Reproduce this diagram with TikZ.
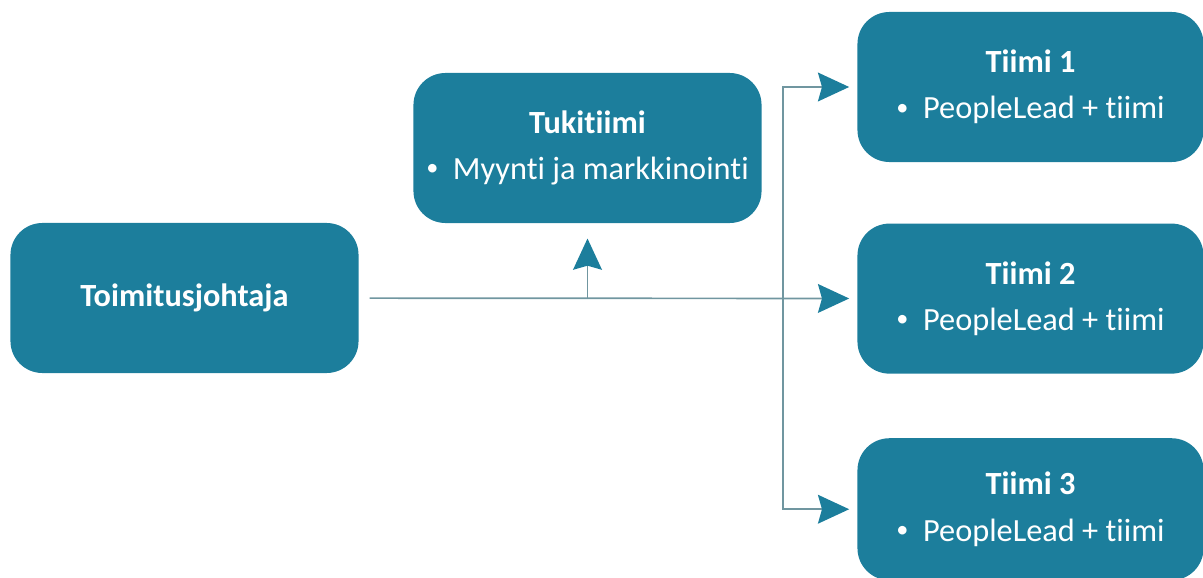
\documentclass[tikz,border=0pt]{standalone}
\usepackage{fontspec}
\setmainfont[Ligatures=NoCommon]{Carlito}
\usetikzlibrary{arrows.meta, positioning}
\definecolor{teambox}{RGB}{28,126,156}
\definecolor{linkgray}{RGB}{112,150,160}
\newcommand{\bulletitem}{\raisebox{0.12em}{\scalebox{0.75}{\textbullet}}\hspace{0.45em}}

\begin{document}
\begin{tikzpicture}[x=0.025cm, y=-0.025cm,
          orgbox/.style={rectangle, fill=teambox, text=white, minimum width=8.7cm, minimum height=3.75cm, align=center, rounded corners=0.8cm, font=\fontsize{23}{33}\selectfont},
          arrow/.style={-{Stealth[length=0.78cm, width=0.72cm, inset=0.1cm, color=teambox, fill=teambox]}, line width=1.2pt, color=linkgray}]

        \useasboundingbox (0,0) rectangle (1203,578);

        \node [orgbox] (ceo) at (184.5,298) {\textbf{Toimitusjohtaja}};
        \node [orgbox] (tuki) at (587.5,148) {\textbf{Tukitiimi}\\\bulletitem Myynti ja markkinointi};
        \node [orgbox, minimum width=8.65cm] (t1) at (1030.5,87) {\textbf{Tiimi 1}\\\bulletitem PeopleLead + tiimi};
        \node [orgbox, minimum width=8.65cm, below=1.525cm of t1] (t2) {\textbf{Tiimi 2}\\\bulletitem PeopleLead + tiimi};
        \node [orgbox, minimum width=8.65cm, minimum height=3.55cm, below=1.6cm of t2] (t3) {\textbf{Tiimi 3}\\\bulletitem PeopleLead + tiimi};

        \coordinate (split) at (tuki.south |- ceo.east);
        \coordinate (fork) at (783,298);

        \draw [arrow, shorten <=0.27cm, shorten >=0.2cm] (ceo) -- (t2);
        \draw [arrow, shorten >=0.38cm] (split) -- (tuki);
        \draw [arrow, shorten >=0.2cm] (fork) |- (t1);
        \draw [arrow, shorten >=0.2cm] (fork) |- (t3);
      \end{tikzpicture}
\end{document}
